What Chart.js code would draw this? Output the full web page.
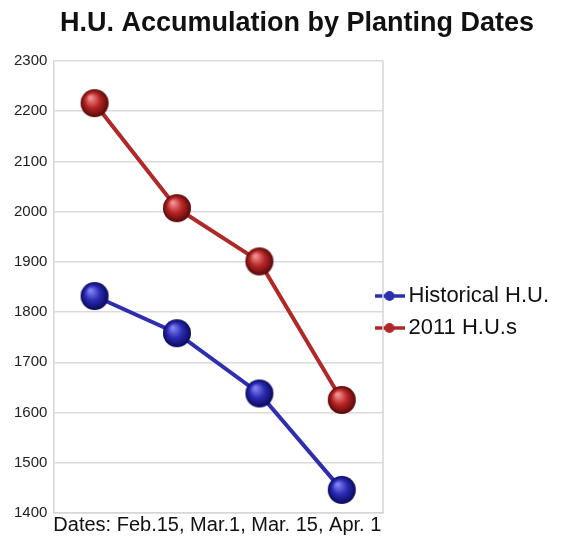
<!DOCTYPE html>
<html>
<head>
<meta charset="utf-8">
<script src="https://cdn.jsdelivr.net/npm/chart.js@4/dist/chart.umd.min.js"></script>
<style>
html,body{margin:0;padding:0;background:#fff;}
#wrap{width:563px;height:539px;}
</style>
</head>
<body>
<div id="wrap"><canvas id="c" width="563" height="539"></canvas></div>
<script>
const categories = ["Feb.15", "Mar.1", "Mar. 15", "Apr. 1"];
const historicalHU = [1832, 1758, 1638, 1446];
const hu2011 = [2216, 2007, 1901, 1625];
const yTicks = [1400, 1500, 1600, 1700, 1800, 1900, 2000, 2100, 2200, 2300];

function sphere(base, light, dark, r) {
  const c = document.createElement('canvas');
  c.width = c.height = r * 2 + 2;
  const g = c.getContext('2d');
  const cx = r + 1, cy = r + 1;
  const grad = g.createRadialGradient(cx - r * 0.3, cy - r * 0.4, r * 0.08, cx, cy, r);
  grad.addColorStop(0, light);
  grad.addColorStop(0.5, base);
  grad.addColorStop(1, dark);
  g.fillStyle = grad;
  g.beginPath(); g.arc(cx, cy, r, 0, Math.PI * 2); g.fill();
  return c;
}
function legendIcon(color) {
  const c = document.createElement('canvas');
  c.width = 30; c.height = 12;
  const g = c.getContext('2d');
  g.strokeStyle = color; g.lineWidth = 3.5;
  g.beginPath(); g.moveTo(0, 6); g.lineTo(30, 6); g.stroke();
  g.fillStyle = color;
  g.beginPath(); g.arc(15, 6, 5, 0, Math.PI * 2); g.fill();
  return c;
}
const blueSphere = sphere('#2b2bb5', '#8080f0', '#0a0a5a', 14);
const redSphere = sphere('#b82626', '#f09090', '#580808', 14);
const blueIcon = legendIcon('#2e2eb0');
const redIcon = legendIcon('#b02828');

const LEG_PAD = 10;
const placeBoxes = {
  id: 'placeBoxes',
  afterUpdate(chart) {
    const lg = chart.legend;
    if (lg) {
      const h = lg.bottom - lg.top;
      lg.left = 381.5 - LEG_PAD; lg.right = lg.left + 200;
      lg.top = 285 - LEG_PAD; lg.bottom = lg.top + h;
      if (lg.adjustHitBoxes) lg.adjustHitBoxes();
    }
    const tb = chart.titleBlock;
    if (tb) { tb.left += 39; tb.right += 39; }
  },
  afterDraw(chart) {
    const a = chart.chartArea, ctx = chart.ctx;
    ctx.save();
    ctx.strokeStyle = '#d6d6d6'; ctx.lineWidth = 1.5;
    ctx.beginPath(); ctx.moveTo(a.right, a.top); ctx.lineTo(a.right, a.bottom); ctx.stroke();
    ctx.restore();
  }
};

new Chart(document.getElementById('c'), {
  type: 'line',
  data: {
    labels: categories,
    datasets: [
      { label: 'Historical H.U.', data: historicalHU, borderColor: '#2e2eb0', borderWidth: 4,
        pointStyle: blueSphere, pointRadius: 14, pointHoverRadius: 14, fill: false, tension: 0 },
      { label: '2011 H.U.s', data: hu2011, borderColor: '#b02828', borderWidth: 4,
        pointStyle: redSphere, pointRadius: 14, pointHoverRadius: 14, fill: false, tension: 0 }
    ]
  },
  options: {
    responsive: false,
    animation: false,
    layout: { padding: { left: 8, right: 55, top: 0, bottom: 2 } },
    plugins: {
      title: { display: true, text: 'H.U. Accumulation by Planting Dates', color: '#111',
        font: { family: 'Liberation Sans, Arial, sans-serif', size: 27, weight: 'bold' },
        padding: { top: 7, bottom: 21.6 } },
      legend: {
        position: 'right',
        align: 'start',
        labels: {
          color: '#111',
          font: { family: 'Liberation Sans, Arial, sans-serif', size: 22 },
          usePointStyle: true,
          pointStyleWidth: 16,
          padding: LEG_PAD,
          generateLabels(chart) {
            return chart.data.datasets.map((d, i) => ({
              text: d.label, pointStyle: i === 0 ? blueIcon : redIcon,
              fillStyle: d.borderColor, strokeStyle: d.borderColor, lineWidth: 0,
              hidden: false, datasetIndex: i, fontColor: '#111'
            }));
          }
        }
      },
      tooltip: { enabled: false }
    },
    scales: {
      x: {
        offset: true,
        grid: { display: false, drawTicks: false },
        border: { display: true, color: '#d6d6d6', width: 1.5 },
        ticks: { display: false },
        title: { display: true, text: 'Dates: Feb.15, Mar.1, Mar. 15, Apr. 1', color: '#111',
          font: { family: 'Liberation Sans, Arial, sans-serif', size: 20 }, padding: { top: 0, bottom: 0 }, align: 'start' }
      },
      y: {
        min: 1400, max: 2300,
        afterBuildTicks(axis) { axis.ticks = yTicks.map(v => ({ value: v })); },
        grid: { color: '#dadada', lineWidth: 1.5, drawTicks: false },
        border: { display: true, color: '#d6d6d6', width: 1.5 },
        ticks: { color: '#222', padding: 6, font: { family: 'Liberation Sans, Arial, sans-serif', size: 15 },
          callback: (v) => String(v) }
      }
    }
  },
  plugins: [placeBoxes]
});
</script>
</body>
</html>
